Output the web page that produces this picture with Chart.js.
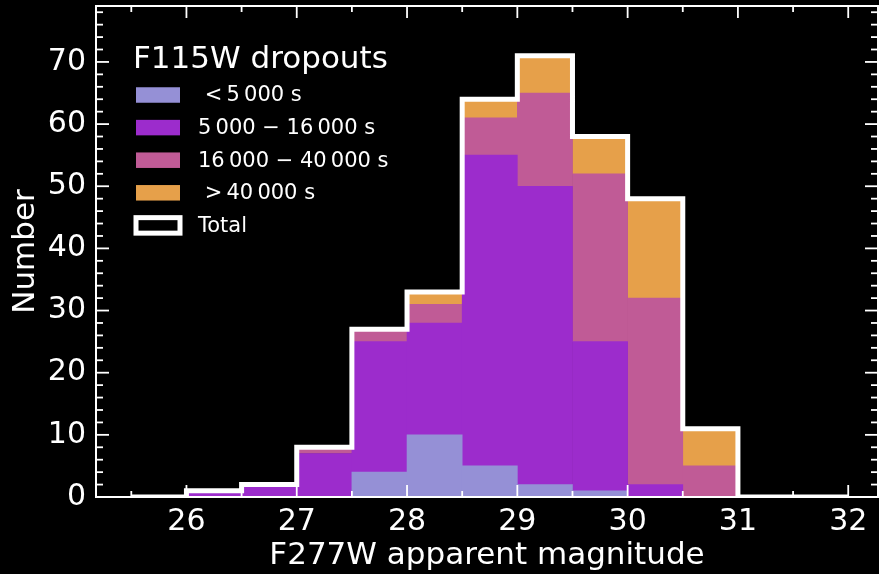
<!DOCTYPE html>
<html>
<head>
<meta charset="utf-8">
<script src="https://cdn.jsdelivr.net/npm/chart.js@4.4.1/dist/chart.umd.min.js"></script>
<style>
  html, body { margin: 0; padding: 0; background: #000; }
  #wrap { width: 879px; height: 574px; }
</style>
</head>
<body>
<div id="wrap"><canvas id="c" width="879" height="574"></canvas></div>
<script>
// Histogram bin edges (F277W magnitude) and counts per exposure-time class
const binEdges = [25.5, 26, 26.5, 27, 27.5, 28, 28.5, 29, 29.5, 30, 30.5, 31, 31.5, 32];
const under5k   = [0, 0, 0, 0, 4, 10, 5, 2, 1, 0, 0, 0, 0];
const from5kTo16k  = [0, 1, 2, 7, 21, 18, 50, 48, 24, 2, 0, 0, 0];
const from16kTo40k = [0, 0, 0, 1, 2, 3, 6, 15, 27, 30, 5, 0, 0];
const over40k   = [0, 0, 0, 0, 0, 2, 3, 6, 6, 16, 6, 0, 0];

const seriesLabels = [' <\u20095\u2009000 s', '5\u2009000 \u2212 16\u2009000 s', '16\u2009000 \u2212 40\u2009000 s', ' >\u200940\u2009000 s'];
const seriesColors = ['#9590d6', '#9c2ccc', '#c05b96', '#e6a04a'];
const totalLabel = 'Total';
const legendTitle = 'F115W dropouts';
const xTitle = 'F277W apparent magnitude';
const yTitle = 'Number';
const xLimits = [25.18, 32.27];
const yLimits = [0, 79];
const xTickStep = 1;
const yTickStep = 10;

const series = [under5k, from5kTo16k, from16kTo40k, over40k];
const totals = under5k.map((_, j) => series.reduce((s, arr) => s + arr[j], 0));

Chart.defaults.font.family = '"DejaVu Sans", sans-serif';
Chart.defaults.color = '#fff';

const blackBackground = {
  id: 'blackBackground',
  beforeDraw(chart) {
    const { ctx, width, height } = chart;
    ctx.save();
    ctx.fillStyle = '#000';
    ctx.fillRect(0, 0, width, height);
    ctx.restore();
  }
};

// Inward major/minor ticks on all four sides plus the axes frame
const frameAndTicks = {
  id: 'frameAndTicks',
  afterDatasetsDraw(chart) {
    const { ctx, chartArea: a, scales: { x, y } } = chart;
    ctx.save();
    ctx.strokeStyle = '#fff';
    ctx.lineWidth = 1.8;
    const seg = (x0, y0, x1, y1) => { ctx.beginPath(); ctx.moveTo(x0, y0); ctx.lineTo(x1, y1); ctx.stroke(); };
    for (let k = Math.ceil(x.min * 2); k <= Math.floor(x.max * 2); k++) {
      const v = k / 2;
      const px = x.getPixelForValue(v);
      const len = (k % 2 === 0) ? 12 : 6;
      seg(px, a.bottom, px, a.bottom - len);
      seg(px, a.top, px, a.top + len);
    }
    for (let v = Math.ceil(y.min / 2) * 2; v <= y.max; v += 2) {
      const py = y.getPixelForValue(v);
      const len = (v % 10 === 0) ? 13 : 7;
      seg(a.left, py, a.left + len, py);
      seg(a.right, py, a.right - len, py);
    }
    ctx.lineWidth = 2;
    ctx.strokeRect(a.left, a.top, a.right - a.left, a.bottom - a.top);
    ctx.restore();
  }
};

// Key drawn inside the plot area, top left
const keyLegend = {
  id: 'keyLegend',
  afterDraw(chart) {
    const { ctx, chartArea: a } = chart;
    const left = a.left + 40, boxW = 44, boxH = 15.5, rowStep = 32.6, firstRow = a.top + 89;
    ctx.save();
    ctx.fillStyle = '#fff';
    ctx.textAlign = 'left';
    ctx.textBaseline = 'alphabetic';
    ctx.font = '31px "DejaVu Sans"';
    ctx.fillText(legendTitle, left - 3, a.top + 62);
    ctx.font = '21px "DejaVu Sans"';
    ctx.textBaseline = 'middle';
    chart.data.datasets.forEach((ds, i) => {
      const cy = firstRow + i * rowStep;
      if (ds.type === 'line') {
        ctx.fillStyle = '#000';
        ctx.fillRect(left, cy - boxH / 2, boxW, boxH);
        ctx.strokeStyle = ds.borderColor;
        ctx.lineWidth = 5;
        ctx.strokeRect(left, cy - boxH / 2, boxW, boxH);
      } else {
        ctx.fillStyle = ds.backgroundColor;
        ctx.fillRect(left, cy - boxH / 2, boxW, boxH);
      }
      ctx.fillStyle = '#fff';
      ctx.fillText(ds.label, left + 62, cy + 1);
    });
    ctx.restore();
  }
};

const barSets = series.map((vals, i) => ({
  type: 'bar',
  label: seriesLabels[i],
  data: vals.map((v, j) => ({ x: (binEdges[j] + binEdges[j + 1]) / 2, y: v })),
  backgroundColor: seriesColors[i],
  borderWidth: 0,
  barPercentage: 1,
  categoryPercentage: 1,
  stack: 'parts',
  order: 2
}));

const totalSet = {
  type: 'line',
  label: totalLabel,
  data: binEdges.map((e, j) => ({ x: e, y: totals[Math.min(j, totals.length - 1)] })),
  stepped: 'before',
  borderColor: '#fff',
  borderWidth: 5,
  borderJoinStyle: 'miter',
  pointRadius: 0,
  fill: false,
  stack: 'total',
  order: 1
};

new Chart(document.getElementById('c'), {
  type: 'bar',
  data: { datasets: [...barSets, totalSet] },
  options: {
    responsive: false,
    animation: false,
    layout: { padding: { top: 6, right: 1, left: 0, bottom: 0 } },
    plugins: { legend: { display: false }, tooltip: { enabled: false } },
    scales: {
      x: {
        type: 'linear',
        min: xLimits[0],
        max: xLimits[1],
        offset: false,
        stacked: true,
        grid: { display: false, drawTicks: false },
        border: { display: false },
        ticks: { stepSize: xTickStep, includeBounds: false, autoSkip: false, maxRotation: 0, padding: 7, color: '#fff', font: { size: 30 } },
        title: { display: true, text: xTitle, color: '#fff', font: { size: 31, lineHeight: 1 }, padding: { top: 0, bottom: 3 } },
        afterFit: s => { s.height = 77; s.paddingLeft = 0; s.paddingRight = 0; }
      },
      y: {
        type: 'linear',
        min: yLimits[0],
        max: yLimits[1],
        stacked: true,
        grid: { display: false, drawTicks: false },
        border: { display: false },
        ticks: { stepSize: yTickStep, includeBounds: false, padding: 10, color: '#fff', font: { size: 30 } },
        title: { display: true, text: yTitle, color: '#fff', font: { size: 31, lineHeight: 1 }, padding: { top: 10, bottom: 0 } },
        afterFit: s => { s.width = 96; s.paddingTop = 0; s.paddingBottom = 0; }
      }
    }
  },
  plugins: [blackBackground, frameAndTicks, keyLegend]
});
</script>
</body>
</html>
